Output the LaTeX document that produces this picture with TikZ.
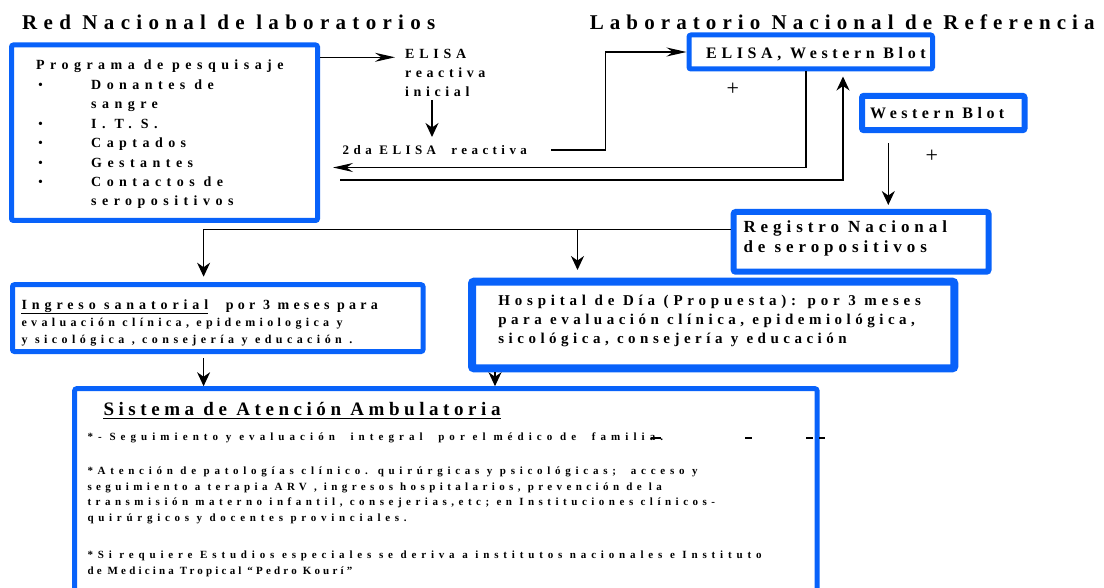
\documentclass[tikz,border=0pt]{standalone}
\usepackage{fontspec}
\setmainfont{Liberation Serif}
\usetikzlibrary{arrows.meta}
\definecolor{lblue}{RGB}{8,98,250}
\tikzset{
  box/.style={draw=lblue, rounded corners=2pt, inner sep=0pt, fill=none},
  T/.style 2 args={anchor=base west, inner sep=0pt, text=black,
    font=\fontsize{#1}{#1}\selectfont\bfseries\addfontfeatures{LetterSpace=#2}},
  bul/.style={anchor=base west, inner sep=0pt, font=\fontsize{14}{14}\selectfont},
  con/.style={line width=1.2pt, draw=black},
  ha/.style={con, -{Stealth[length=20pt,width=9pt]}},
  va/.style={con, -{Stealth[length=14pt,width=13pt]}},
  plus/.style={inner sep=0pt, font=\fontsize{22}{22}\selectfont},
  dashmark/.style={line width=2pt, draw=black}
}
\begin{document}
\begin{tikzpicture}[x=1pt,y=-1pt]
\useasboundingbox (0,0) rectangle (1104,588);
% titles
\node[T={21}{30}] (ttl1) at (22,30) {Red Nacional de laboratorios};
\node[T={21}{29}] (ttl2) at (589.6,29.3) {Laboratorio Nacional de Referencia};
% boxes
\node[box, line width=5pt, minimum width=306pt, minimum height=175.5pt] (A) at (164.5,132.75) {};
\node[box, line width=5pt, minimum width=243.5pt, minimum height=34pt] (B) at (810.75,52) {};
\node[box, line width=6pt, minimum width=162.5pt, minimum height=34.4pt] (C) at (943.25,113) {};
\node[box, line width=6pt, minimum width=254.8pt, minimum height=59.7pt] (Reg) at (861.1,241.85) {};
\node[box, line width=5pt, minimum width=410.5pt, minimum height=66.8pt] (Ing) at (217.75,318.1) {};
\node[box, line width=8pt, minimum width=482.3pt, minimum height=86.6pt] (Hosp) at (713.15,325) {};
\node[box, line width=5pt, minimum width=742.3pt, minimum height=231.3pt] (Sis) at (445.85,504.35) {};
% box A text
\node[T={14}{39}] (a0) at (36,70) {Programa de pesquisaje};
\node[bul] (b1) at (38,89.3) {•};
\node[T={14}{39}] (a1) at (91,89.3) {Donantes de};
\node[T={14}{39}] (a2) at (91,109) {sangre};
\node[bul] (b2) at (38,128.3) {•};
\node[T={14}{39}] (a3) at (91,128.3) {I. T. S.};
\node[bul] (b3) at (38,147.7) {•};
\node[T={14}{39}] (a4) at (91,147.7) {Captados};
\node[bul] (b4) at (38,167.7) {•};
\node[T={14}{39}] (a5) at (91,167.7) {Gestantes};
\node[bul] (b5) at (38,186.7) {•};
\node[T={14}{39}] (a6) at (91,186.7) {Contactos de};
\node[T={14}{39}] (a7) at (91,206) {seropositivos};
% ELISA text
\node[T={14}{34}] (el1) at (405,58.3) {ELISA};
\node[T={14}{33}] (el2) at (405,77.3) {reactiva};
\node[T={14}{33}] (el3) at (405,96.7) {inicial};
\node[T={13}{34}] (e2da) at (342.5,155) {2da ELISA\ \ reactiva};
% box B, C, Registro
\node[T={16}{29}] (btxt) at (706,58.3) {ELISA, Western Blot};
\node[T={16}{28}] (ctxt) at (870,118.3) {Western Blot};
\node[T={17}{29}] (reg1) at (743.3,232.7) {Registro Nacional};
\node[T={17}{29}] (reg2) at (743.3,252.7) {de seropositivos};
\node[plus] (p1) at (732.7,89.3) {+};
\node[plus] (p2) at (931.7,156.7) {+};
% Ingreso
\node[T={14}{35}] (ing1a) at (21.4,310) {Ingreso sanatorial};
\node[T={14}{30}] (ing1b) at (225.7,310) {por 3 meses para};
\node[T={12}{36}] (ing2) at (21.4,326.7) {evaluación clínica, epidemiologica y};
\node[T={12}{37}] (ing3) at (21.4,343.3) {y sicológica , consejería y educación .};
\draw[line width=1.5pt] ([yshift=-3.6pt]ing1a.base west) -- ([yshift=-3.6pt]ing1a.base east);
% Hospital
\node[T={15}{32}] (hos1) at (498.2,306) {Hospital de Día (Propuesta): por 3 meses};
\node[T={15}{30}] (hos2) at (498.2,324.7) {para evaluación clínica, epidemiológica,};
\node[T={15}{30}] (hos3) at (498.2,343.3) {sicológica, consejería y educación};
% Sistema
\node[T={19}{24}] (sist) at (103.3,415) {Sistema de Atención Ambulatoria};
\draw[line width=1.8pt] ([yshift=-3.5pt]sist.base west) -- ([yshift=-3.5pt]sist.base east);
\node[T={11}{46}] (s1) at (87.3,440) {*- Seguimiento y evaluación\ \ integral\ \ por el médico de\ \ familia.};
\node[T={11}{43}] (s2) at (87.3,474) {*Atención de patologías clínico. quirúrgicas y psicológicas;\ \ acceso y};
\node[T={11}{40}] (s3) at (87.3,490) {seguimiento a terapia ARV , ingresos hospitalarios, prevención de la};
\node[T={11}{41}] (s4) at (87.3,505.5) {transmisión materno infantil, consejerias,etc; en Instituciones clínicos-};
\node[T={11}{43}] (s5) at (87.3,521) {quirúrgicos y docentes provinciales.};
\node[T={11}{44}] (s6) at (87.3,558.5) {*Si requiere Estudios especiales se deriva a institutos nacionales e Instituto};
\node[T={11}{29}] (s7) at (87.3,574) {de Medicina Tropical “Pedro Kourí”};
\draw[dashmark] (651,437.5) -- (661,437.5);
\draw[dashmark] (745,437.5) -- (752,437.5);
\draw[dashmark] (806,437.5) -- (813,437.5);
\draw[dashmark] (819,437.5) -- (825,437.5);
% connectors
\coordinate (e1) at (395,57.3);
\draw[ha] (A.east |- e1) -- (e1);
\coordinate (d1) at (432,100);
\coordinate (d2) at (432,137);
\draw[va] (d1) -- (d2);
\coordinate (s2start) at (551,150);
\draw[ha] (s2start) -| (605.5,52) -- (B.west);
\coordinate (r1) at (333,167.5);
\draw[ha] (B.south -| 806,0) |- (r1);
\coordinate (r2) at (340,180);
\draw[va, shorten >=5pt] (r2) -| (B.south -| 843,0);
\draw[va, shorten <=10pt, shorten >=4pt] (C.south -| 888.3,0) -- (Reg.north -| 888.3,0);
\coordinate (jl) at (203.6,229.5);
\coordinate (jm) at (577.5,229.5);
\draw[con] (Reg.west |- jl) -- (jl);
\draw[va, shorten >=5.5pt] (jl) -- (Ing.north -| jl);
\draw[va, shorten >=7.7pt] (jm) -- (Hosp.north -| jm);
\draw[va, shorten <=4pt] (Ing.south -| jl) -- (Sis.north -| jl);
\draw[va] (Hosp.south -| 495,0) -- (Sis.north -| 495,0);
\end{tikzpicture}
\end{document}
